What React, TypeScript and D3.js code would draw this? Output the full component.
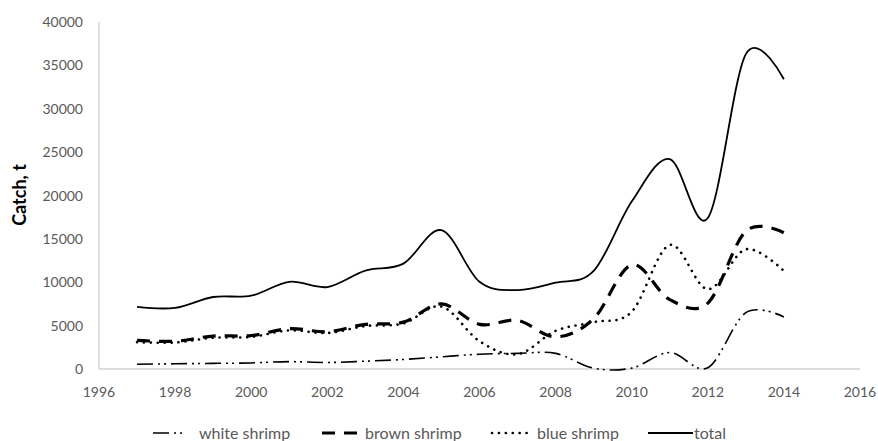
import React, { useEffect, useRef } from 'react';
import * as d3 from 'd3';

const years = [1997, 1998, 1999, 2000, 2001, 2002, 2003, 2004, 2005, 2006, 2007, 2008, 2009, 2010, 2011, 2012, 2013, 2014];
const whiteShrimp = [550, 600, 650, 700, 850, 750, 900, 1100, 1400, 1700, 1800, 1800, 100, 100, 1900, 150, 6500, 6000];
const brownShrimp = [3300, 3200, 3800, 3850, 4650, 4300, 5150, 5400, 7500, 5150, 5600, 3700, 5800, 12000, 8000, 7600, 15900, 15700];
const blueShrimp = [3100, 3050, 3600, 3700, 4450, 4150, 4950, 5250, 7200, 3200, 1700, 4400, 5400, 6600, 14300, 9200, 13800, 11300];
const total = [7150, 7050, 8300, 8450, 10050, 9450, 11350, 12150, 16000, 10050, 9100, 9950, 11300, 19300, 24200, 17400, 36300, 33400];
const xTicks = [1996, 1998, 2000, 2002, 2004, 2006, 2008, 2010, 2012, 2014, 2016];
const yTicks = [0, 5000, 10000, 15000, 20000, 25000, 30000, 35000, 40000];

const seriesNames = ['white shrimp', 'brown shrimp', 'blue shrimp', 'total'];
const seriesValues = [whiteShrimp, brownShrimp, blueShrimp, total];

const W = 878;
const H = 441;
const FONT = 'Lato, "Open Sans", sans-serif';

// line styles in the Excel look: dash-dot-dot, heavy dash, round dots, solid
const styles = [
  { width: 1.6, dash: '16 5 2 4 2 5', cap: 'butt' },
  { width: 3.2, dash: '13 9', cap: 'butt' },
  { width: 2.6, dash: '0.1 6.8', cap: 'round' },
  { width: 1.8, dash: null, cap: 'butt' },
];

export default function App() {
  const svgRef = useRef<SVGSVGElement | null>(null);

  useEffect(() => {
    const svg = d3.select(svgRef.current);
    svg.selectAll('*').remove();

    const x = d3.scaleLinear().domain([1996, 2016]).range([99, 860]);
    const y = d3.scaleLinear().domain([0, 40000]).range([369, 22]);

    // axis lines
    svg
      .append('line')
      .attr('x1', x(1996))
      .attr('x2', x(1996))
      .attr('y1', y(40000))
      .attr('y2', y(0))
      .attr('stroke', '#d0d0d0')
      .attr('stroke-width', 1.3);
    svg
      .append('line')
      .attr('x1', x(1996))
      .attr('x2', x(2016))
      .attr('y1', y(0))
      .attr('y2', y(0))
      .attr('stroke', '#d0d0d0')
      .attr('stroke-width', 1.3);

    // tick labels
    svg
      .selectAll('.ytick')
      .data(yTicks)
      .join('text')
      .attr('x', 83)
      .attr('y', (d) => y(d) + 5)
      .attr('text-anchor', 'end')
      .attr('font-family', FONT)
      .attr('font-size', 14)
      .attr('fill', '#595959')
      .text((d) => d);
    svg
      .selectAll('.xtick')
      .data(xTicks)
      .join('text')
      .attr('x', (d) => x(d))
      .attr('y', 397)
      .attr('text-anchor', 'middle')
      .attr('font-family', FONT)
      .attr('font-size', 14)
      .attr('fill', '#595959')
      .text((d) => d);

    // y title
    svg
      .append('text')
      .attr('transform', 'translate(26, 195) rotate(-90)')
      .attr('text-anchor', 'middle')
      .attr('font-family', FONT)
      .attr('font-size', 18)
      .attr('font-weight', 'bold')
      .attr('fill', '#000')
      .text('Catch, t');

    // smoothed lines
    const line = d3
      .line<number>()
      .x((_, i) => x(years[i]))
      .y((d) => y(d))
      .curve(d3.curveCardinal.tension(0));

    seriesValues.forEach((vals, i) => {
      const st = styles[i];
      svg
        .append('path')
        .attr('d', line(vals))
        .attr('fill', 'none')
        .attr('stroke', '#000')
        .attr('stroke-width', st.width)
        .attr('stroke-linecap', st.cap)
        .attr('stroke-dasharray', st.dash);
    });

    // legend
    const legendX = [153, 322, 492, 648];
    const legendEnd = [186, 360, 528, 693];
    const legendText = [199, 365, 537, 694];
    const ly = 433;
    seriesNames.forEach((name, i) => {
      const st = styles[i];
      svg
        .append('line')
        .attr('x1', legendX[i])
        .attr('x2', legendEnd[i])
        .attr('y1', ly)
        .attr('y2', ly)
        .attr('stroke', '#000')
        .attr('stroke-width', st.width)
        .attr('stroke-linecap', st.cap)
        .attr('stroke-dasharray', st.dash);
      svg
        .append('text')
        .attr('x', legendText[i])
        .attr('y', ly + 6)
        .attr('font-family', FONT)
        .attr('font-size', 16)
        .attr('fill', '#595959')
        .text(name);
    });
  });

  return (
    <svg
      ref={svgRef}
      width={W}
      height={H}
      style={{ position: 'absolute', left: 0, top: 0, background: '#fff' }}
    ></svg>
  );
}
